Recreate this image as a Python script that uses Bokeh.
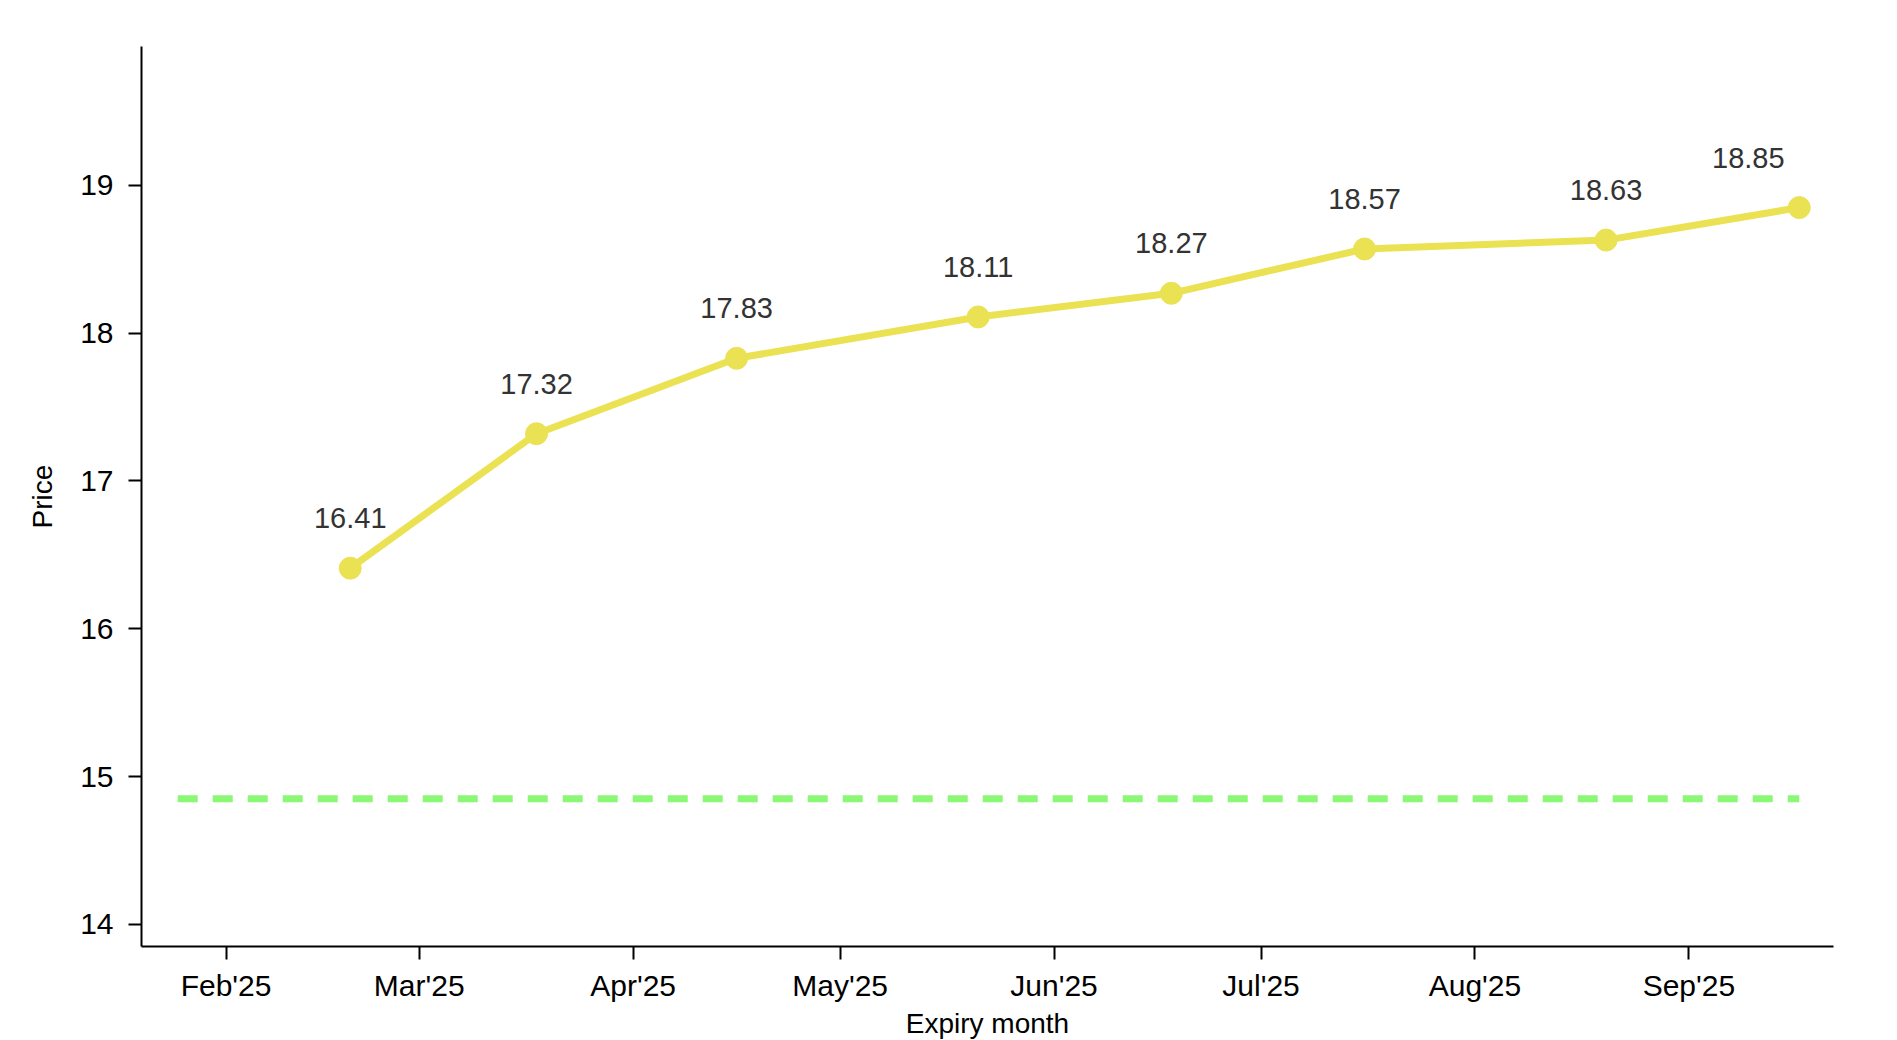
from datetime import datetime
from bokeh.plotting import figure
from bokeh.models import ColumnDataSource, Range1d, DatetimeTickFormatter, MonthsTicker
from bokeh.core.properties import value
from bokeh.embed import file_html
from bokeh.resources import INLINE

# ---- data ----
expiry_dates = ["2025-02-19", "2025-03-18", "2025-04-16", "2025-05-21",
                "2025-06-18", "2025-07-16", "2025-08-20", "2025-09-17"]
prices = [16.41, 17.32, 17.83, 18.11, 18.27, 18.57, 18.63, 18.85]
spot_price = 14.85
spot_start = "2025-01-25"
x_start = "2025-01-19 18:00"
x_end = "2025-09-21 23:00"
y_start, y_end = 13.85, 19.94

FONT = "Liberation Sans"

xs = [datetime.fromisoformat(d) for d in expiry_dates]
labels = [f"{v:.2f}" for v in prices]
x_off = [0] * len(xs)
x_off[-1] = -51  # last label justified inside the plot

src = ColumnDataSource(dict(x=xs, y=prices, label=labels, xo=x_off))

p = figure(
    x_axis_type="datetime",
    frame_width=1692, frame_height=900,
    min_border_left=141, min_border_top=46, min_border_right=48, min_border_bottom=80,
    output_backend="svg", toolbar_location=None,
    x_range=Range1d(datetime.fromisoformat(x_start), datetime.fromisoformat(x_end)),
    y_range=Range1d(y_start, y_end),
)
p.outline_line_color = None
p.grid.visible = False
p.background_fill_color = "white"
p.border_fill_color = "white"

# spot reference line
p.line(x=[datetime.fromisoformat(spot_start), xs[-1]], y=[spot_price, spot_price],
       line_color="#8AF874", line_width=7, line_dash="20 15", line_cap="butt")

# term structure
p.line(x="x", y="y", source=src, line_color="#EAE253", line_width=7)
p.scatter(x="x", y="y", source=src, size=22, fill_color="#EAE253", line_color="#EAE253")
p.text(x="x", y="y", text="label", source=src, x_offset="xo", y_offset=-50,
       text_align="center", text_baseline="middle",
       text_font=value(FONT), text_font_size="29px", text_color="#333333")

# axes
p.xaxis.ticker = MonthsTicker(months=list(range(12)))
p.xaxis.formatter = DatetimeTickFormatter(months="%b'%y", days="%b'%y")
p.yaxis.ticker = [14, 15, 16, 17, 18, 19]
p.xaxis.axis_label = "Expiry month"
p.yaxis.axis_label = "Price"

for ax in (p.xaxis, p.yaxis):
    ax.axis_line_color = "black"
    ax.axis_line_width = 2
    ax.major_tick_line_color = "black"
    ax.major_tick_line_width = 2
    ax.major_tick_out = 13
    ax.major_tick_in = 0
    ax.minor_tick_line_color = None
    ax.major_label_text_font = FONT
    ax.major_label_text_font_size = "30px"
    ax.major_label_text_color = "black"
    ax.axis_label_text_font = FONT
    ax.axis_label_text_font_size = "28px"
    ax.axis_label_text_font_style = "normal"
    ax.axis_label_text_color = "black"

p.yaxis.major_label_standoff = 15
p.yaxis.axis_label_standoff = 19
p.xaxis.major_label_standoff = 9
p.xaxis.axis_label_standoff = 3

open("out.html", "w").write(file_html(p, INLINE))
